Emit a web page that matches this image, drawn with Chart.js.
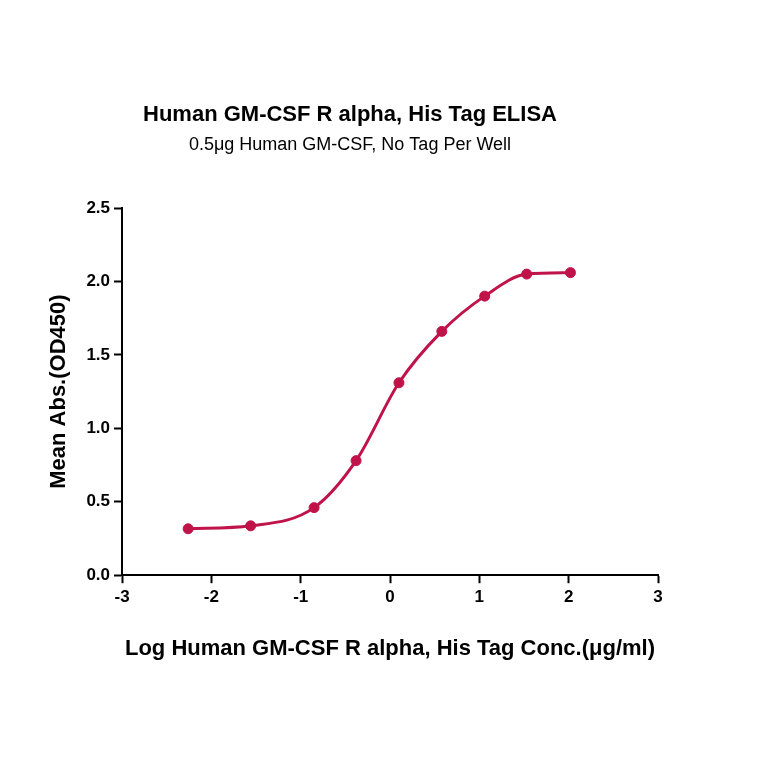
<!DOCTYPE html>
<html><head><script src="https://cdn.jsdelivr.net/npm/chart.js"></script>
<style>body{margin:0;background:#fff}#w{width:764px;height:764px}</style></head>
<body><div id="w"><canvas id="c"></canvas></div>
<script>
const logConc=[-2.26,-1.56,-0.85,-0.38,0.10,0.58,1.06,1.53,2.02];
const meanAbs=[0.316,0.336,0.46,0.78,1.31,1.66,1.90,2.05,2.06];
const xTicks=[-3,-2,-1,0,1,2,3];
const yTicks=[0.0,0.5,1.0,1.5,2.0,2.5];
const pts=logConc.map((x,i)=>({x,y:meanAbs[i]}));
const col='#C0134A';
const F='Arial, "Liberation Sans", sans-serif';
new Chart(document.getElementById('c'),{
type:'scatter',
data:{datasets:[
{data:pts,showLine:true,cubicInterpolationMode:'monotone',borderColor:col,borderWidth:3,pointRadius:0},
{data:pts,showLine:false,pointRadius:5,pointBackgroundColor:col,pointBorderColor:col}
]},
options:{responsive:true,maintainAspectRatio:false,animation:false,
layout:{padding:{left:42,right:106,top:102,bottom:98}},
plugins:{legend:{display:false},tooltip:{enabled:false},
title:{display:true,text:'Human GM-CSF R alpha, His Tag ELISA',color:'#000',font:{family:F,size:22,weight:'bold'},padding:{bottom:6}},
subtitle:{display:true,text:'0.5μg Human GM-CSF, No Tag Per Well',color:'#000',font:{family:F,size:18},padding:{bottom:52}}},
scales:{
x:{type:'linear',min:-3,max:3,afterBuildTicks:a=>{a.ticks=xTicks.map(v=>({value:v}))},
grid:{display:true,drawOnChartArea:false,drawTicks:true,tickLength:8,tickColor:'#000',tickWidth:2},border:{color:'#000',width:2},
ticks:{color:'#000',font:{family:F,size:17,weight:'bold'},padding:4},
title:{display:true,text:'Log Human GM-CSF R alpha, His Tag Conc.(μg/ml)',color:'#000',font:{family:F,size:22,weight:'bold'},padding:{top:24}}},
y:{min:0,max:2.5,afterBuildTicks:a=>{a.ticks=yTicks.map(v=>({value:v}))},
grid:{display:true,drawOnChartArea:false,tickLength:8,tickColor:'#000',tickWidth:2},border:{color:'#000',width:2},
ticks:{color:'#000',font:{family:F,size:17,weight:'bold'},callback:v=>v.toFixed(1),padding:4},
title:{display:true,text:'Mean Abs.(OD450)',color:'#000',font:{family:F,size:22,weight:'bold'},padding:{bottom:10}}}
}}});
</script></body></html>
